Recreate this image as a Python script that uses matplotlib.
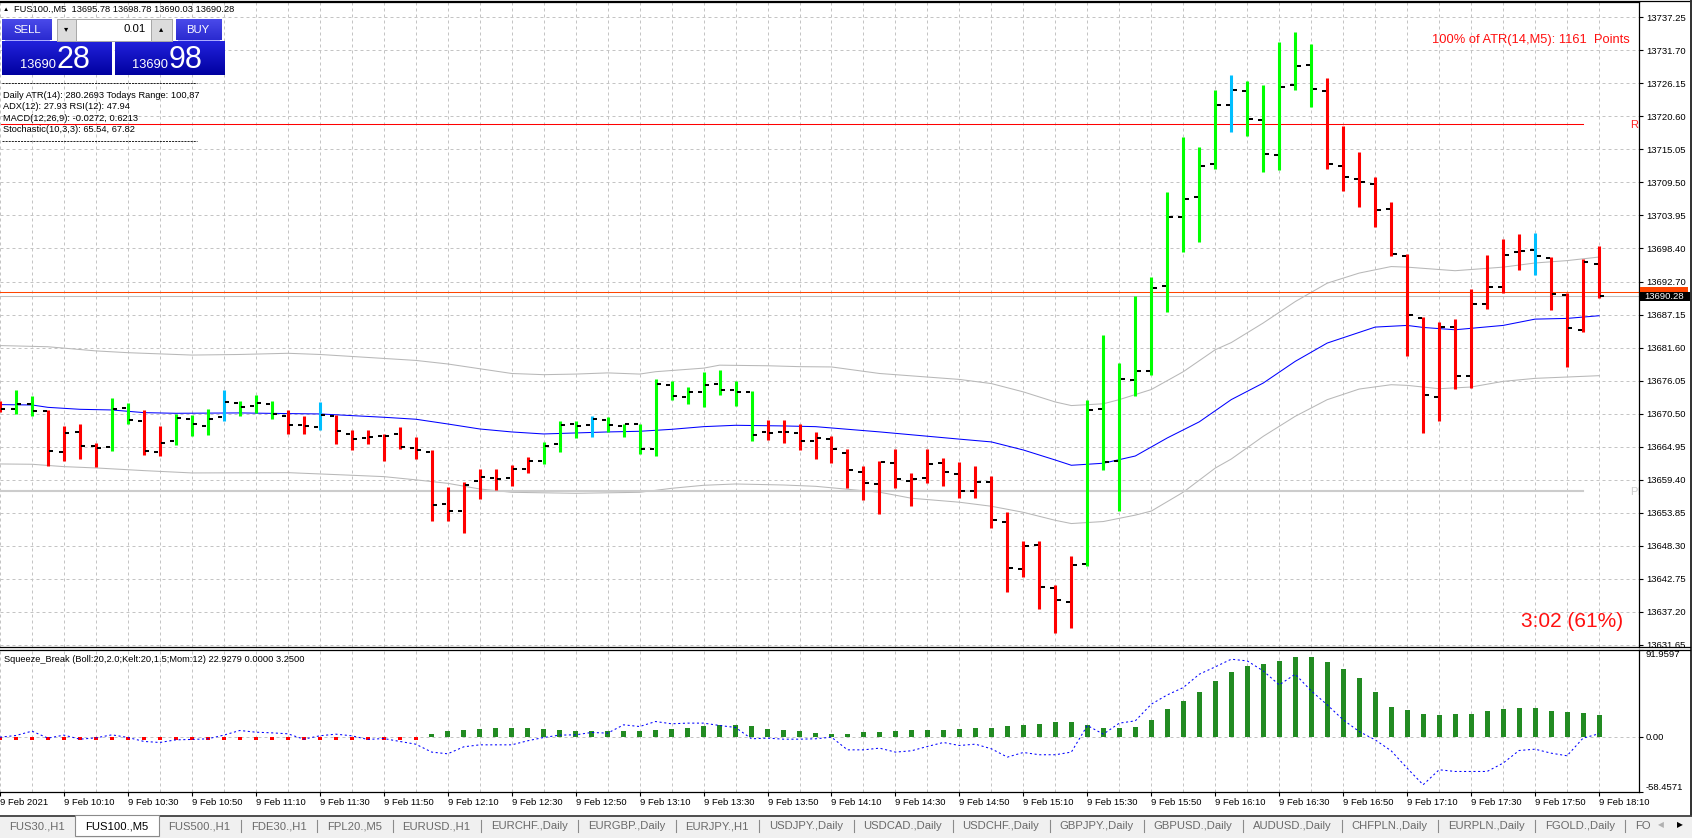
import matplotlib
matplotlib.use('Agg')
import matplotlib.pyplot as plt
import matplotlib.colors as mcolors
from matplotlib.collections import LineCollection
from matplotlib.patches import Rectangle
import numpy as np

plt.rcParams['font.family'] = ['Liberation Sans', 'DejaVu Sans']

# ---------------- data ----------------
symbol = "FUS100.,M5"
bar_open = [13671.8, 13671.27, 13672.12, 13671.05, 13664.04, 13667.40, 13665.16, 13664.99, 13671.44, 13669.26,
            13664.04, 13665.89, 13669.59, 13668.41, 13669.93, 13672.34, 13671.78, 13672.17, 13670.10, 13668.58,
            13668.25, 13670.10, 13667.07, 13666.39, 13666.84, 13667.07, 13664.71, 13664.03, 13655.28, 13654.10,
            13659.15, 13659.66, 13659.66, 13661.17, 13662.52, 13665.38, 13668.75, 13668.58, 13669.42, 13668.41,
            13668.75, 13664.54, 13675.31, 13673.29, 13674.13, 13675.48, 13674.47, 13674.13, 13667.40, 13667.40,
            13667.23, 13665.89, 13666.32, 13663.95, 13660.77, 13658.67, 13662.26, 13659.28, 13659.75, 13662.26,
            13660.43, 13657.45, 13659.08, 13652.24, 13644.32, 13648.38, 13641.14, 13638.84, 13645.20, 13671.33,
            13662.60, 13676.27, 13677.76, 13692.04, 13703.68, 13707.06, 13712.61, 13722.56, 13724.86, 13719.98,
            13714.09, 13725.87, 13729.23, 13724.86, 13712.24, 13710.06, 13709.22, 13705.01, 13697.11, 13686.68,
            13673.39, 13685.05, 13676.81, 13689.03, 13691.89, 13697.78, 13698.12, 13696.77, 13690.55, 13684.55,
            13695.78]
bar_high = [13672.6, 13674.59, 13673.58, 13671.22, 13668.53, 13668.86, 13665.66, 13673.24, 13672.40, 13671.22,
            13668.53, 13670.55, 13670.38, 13671.39, 13674.59, 13672.73, 13673.74, 13672.73, 13671.22, 13670.21,
            13672.57, 13670.32, 13667.85, 13667.85, 13667.07, 13668.36, 13666.67, 13664.48, 13658.25, 13659.10,
            13661.28, 13661.28, 13661.96, 13663.30, 13665.83, 13669.36, 13669.36, 13670.21, 13670.04, 13668.86,
            13668.86, 13676.43, 13676.10, 13675.09, 13677.61, 13677.95, 13676.10, 13674.41, 13669.53, 13669.53,
            13668.86, 13667.51, 13666.79, 13664.56, 13661.72, 13662.53, 13664.56, 13660.57, 13664.56, 13663.07,
            13662.39, 13661.72, 13660.02, 13653.93, 13649.06, 13649.06, 13641.75, 13646.62, 13672.88, 13683.71,
            13679.11, 13690.28, 13693.52, 13707.87, 13717.15, 13715.45, 13725.06, 13727.50, 13726.54, 13725.87,
            13733.09, 13734.78, 13732.76, 13727.04, 13718.97, 13714.60, 13710.39, 13706.19, 13697.44, 13686.79,
            13686.01, 13686.51, 13691.50, 13697.27, 13699.97, 13700.81, 13700.97, 13696.88, 13690.83, 13696.60,
            13698.78]
bar_low = [13670.9, 13670.43, 13670.10, 13661.79, 13662.63, 13662.97, 13661.62, 13664.32, 13668.86, 13663.64,
           13663.48, 13665.33, 13666.84, 13667.01, 13669.26, 13670.10, 13670.71, 13669.70, 13667.18, 13667.18,
           13667.74, 13665.50, 13664.37, 13665.50, 13662.63, 13664.54, 13662.97, 13652.53, 13652.53, 13650.51,
           13656.23, 13657.75, 13658.42, 13660.61, 13662.13, 13664.15, 13666.50, 13666.67, 13667.51, 13666.67,
           13663.81, 13663.47, 13672.90, 13672.23, 13671.72, 13673.74, 13671.89, 13666.00, 13666.17, 13665.66,
           13664.48, 13662.97, 13662.26, 13657.99, 13655.96, 13653.59, 13657.99, 13654.95, 13658.87, 13658.33,
           13656.30, 13656.30, 13651.36, 13640.53, 13643.10, 13637.69, 13633.63, 13634.51, 13644.93, 13661.04,
           13654.13, 13673.49, 13677.08, 13687.57, 13697.72, 13699.48, 13711.80, 13718.02, 13717.29, 13711.29,
           13711.57, 13725.01, 13722.17, 13711.79, 13708.09, 13705.40, 13702.04, 13697.00, 13680.18, 13667.28,
           13669.24, 13674.74, 13674.91, 13688.14, 13690.83, 13694.75, 13693.86, 13688.02, 13678.33, 13684.21,
           13690.03]
bar_close = [13671.27, 13672.17, 13671.05, 13664.21, 13667.24, 13665.16, 13664.82, 13671.27, 13669.42, 13664.21,
             13665.55, 13669.76, 13668.75, 13669.59, 13672.45, 13671.61, 13672.28, 13670.43, 13668.58, 13668.41,
             13670.32, 13667.57, 13666.23, 13666.67, 13666.84, 13664.99, 13664.43, 13655.11, 13654.21, 13658.59,
             13659.83, 13659.49, 13661.17, 13662.52, 13665.04, 13668.69, 13668.41, 13669.59, 13668.58, 13668.75,
             13664.54, 13675.48, 13673.46, 13674.13, 13675.31, 13674.47, 13674.13, 13666.90, 13667.23, 13667.40,
             13665.89, 13666.39, 13664.63, 13661.04, 13658.87, 13662.39, 13659.48, 13659.48, 13662.05, 13660.77,
             13657.45, 13659.08, 13652.58, 13644.59, 13648.18, 13641.28, 13639.18, 13645.07, 13671.19, 13662.39,
             13676.40, 13677.76, 13691.77, 13703.68, 13706.72, 13712.27, 13722.56, 13725.06, 13720.20, 13714.26,
             13725.59, 13729.06, 13725.19, 13712.58, 13710.39, 13709.55, 13704.84, 13697.44, 13687.18, 13673.73,
             13685.05, 13676.81, 13689.03, 13691.89, 13697.27, 13697.95, 13697.11, 13690.72, 13684.89, 13695.99,
             13690.28]
bar_color = ("r" "gg" "rrrr" "gg" "rr" "ggg" "c" "ggg" "rr" "c" "rrrrrr" "rrrrrrr" "ggg" "c"
             "gggggggggg" "rrrrrrrrrrrrrrrrrrrr" "ggggggggg" "c" "ggggg" "rrrrrrrrrrrrr" "c" "rrrr")

upper_idx = [0, 3, 6, 8, 10, 12, 15, 18, 20, 23, 26, 28, 30, 32, 34, 36, 38, 40, 41, 44, 45, 48, 50, 52, 55,
             60, 62, 64, 66, 67, 69, 70, 72, 74, 76, 77, 79, 81, 83, 85, 87, 88, 91, 94, 96, 98, 100]
upper_band = [13682.0, 13681.8, 13681.1, 13680.8, 13680.6, 13680.4, 13680.5, 13680.7, 13680.5, 13680.0,
              13679.5, 13678.9, 13678.1, 13677.3, 13677.1, 13677.2, 13677.4, 13677.2, 13677.6, 13678.2,
              13678.7, 13678.6, 13678.45, 13678.4, 13677.3, 13676.3, 13675.6, 13674.2, 13672.5, 13671.9,
              13672.2, 13672.9, 13674.6, 13677.6, 13681.3, 13682.5, 13685.8, 13689.4, 13692.5, 13694.2,
              13695.3, 13695.2, 13694.6, 13695.2, 13695.9, 13696.3, 13696.9]
mid_idx = [0, 2, 3, 5, 7, 9, 11, 15, 18, 20, 22, 24, 26, 28, 30, 32, 34, 36, 38, 40, 42, 44, 46, 49, 51,
           55, 60, 62, 64, 66, 67, 69, 71, 73, 75, 77, 79, 81, 83, 86, 88, 89, 91, 94, 96, 98, 100]
mid_band = [13672.06, 13672.0, 13671.6, 13671.27, 13671.16, 13670.71, 13670.6, 13670.66, 13670.55, 13670.49,
            13670.21, 13669.93, 13669.6, 13668.8, 13667.96, 13667.46, 13667.12, 13667.29, 13667.46, 13667.57,
            13667.9, 13668.35, 13668.58, 13668.47, 13668.35, 13667.47, 13666.25, 13665.78, 13664.42, 13662.73,
            13661.85, 13662.19, 13663.41, 13666.45, 13669.16, 13672.9, 13675.69, 13679.34, 13682.42, 13685.11,
            13685.39, 13685.05, 13684.66, 13685.39, 13686.45, 13686.57, 13687.02]
lower_idx = [0, 2, 4, 6, 9, 12, 18, 21, 24, 26, 28, 30, 32, 36, 40, 42, 44, 46, 49, 51, 55, 57, 60, 62, 64,
             66, 67, 69, 71, 72, 74, 76, 77, 79, 81, 83, 85, 87, 88, 90, 92, 94, 96, 100]
lower_band = [13662.07, 13662.02, 13661.62, 13661.4, 13660.95, 13660.56, 13660.61, 13660.28, 13659.94, 13659.4,
              13658.81, 13657.86, 13657.3, 13657.13, 13657.3, 13657.97, 13658.48, 13658.7, 13658.53, 13658.31,
              13657.32, 13656.30, 13655.63, 13654.95, 13653.93, 13652.58, 13652.04, 13652.38, 13653.46, 13654.14,
              13657.32, 13661.38, 13662.9, 13666.72, 13670.09, 13672.89, 13674.68, 13675.41, 13675.3, 13674.74,
              13675.02, 13675.97, 13676.48, 13676.93]

r_level = 13719.27
pp_level = 13657.58
ask_price = 13690.98
bid_price = 13690.28

price_labels = ['13737.25', '13731.70', '13726.15', '13720.60', '13715.05', '13709.50', '13703.95',
                '13698.40', '13692.70', '13687.15', '13681.60', '13676.05', '13670.50', '13664.95',
                '13659.40', '13653.85', '13648.30', '13642.75', '13637.20', '13631.65']
time_labels = ['9 Feb 2021', '9 Feb 10:10', '9 Feb 10:30', '9 Feb 10:50', '9 Feb 11:10', '9 Feb 11:30',
               '9 Feb 11:50', '9 Feb 12:10', '9 Feb 12:30', '9 Feb 12:50', '9 Feb 13:10', '9 Feb 13:30',
               '9 Feb 13:50', '9 Feb 14:10', '9 Feb 14:30', '9 Feb 14:50', '9 Feb 15:10', '9 Feb 15:30',
               '9 Feb 15:50', '9 Feb 16:10', '9 Feb 16:30', '9 Feb 16:50', '9 Feb 17:10', '9 Feb 17:30',
               '9 Feb 17:50', '9 Feb 18:10']

hist_idx = list(range(27, 101))
hist_vals = [3.2, 6.3, 7.4, 8.5, 9.5, 9.5, 9.5, 8.5,
             7.4, 6.3, 6.3, 6.3, 6.3, 6.3, 7.4, 8.5, 9.5, 11.6,
             12.7, 12.7, 11.6, 8.5, 7.4, 6.3, 4.2, 3.2, 3.2, 5.3,
             5.3, 6.3, 7.4, 7.4, 7.4, 8.5, 9.5, 9.5, 11.6, 12.7,
             13.8, 15.9, 15.9, 12.7, 9.5, 9.5, 10.6, 18.0, 29.6, 38.1,
             47.6, 59.3, 68.8, 75.1, 77.2, 80.4, 84.7, 84.7, 79.4, 72.0,
             62.4, 47.6, 31.7, 28.6, 24.3, 23.3, 24.3, 24.3, 27.5, 29.6,
             30.7, 30.7, 27.5, 26.5, 25.4, 22.9279]
squeeze_idx = list(range(0, 27))
squeeze_vals = [-3.9, -3.9, -3.9, -3.9, -3.9, -3.9, -3.9, -3.9, -3.9, -3.9, -3.9, -3.9, -3.9, -3.9,
                -3.9, -3.9, -3.9, -3.9, -3.9, -3.9, -3.9, -3.9, -3.9, -3.9, -3.9, -3.9, -3.9]
mom_vals = [-0.4, 1.4, 6.0, -1.4, 1.8, -2.5, -1.1, 2.1, -0.7, -4.9,
            -6.0, -3.2, -2.8, -2.1, 1.8, 6.7, 4.9, 4.2, 3.2, -2.5,
            1.1, 2.8, 1.1, -2.8, -1.8, -4.9, -7.8, -16.2, -18.0, -10.6,
            -8.5, -8.5, -8.5, -4.2, -0.7, 1.8, 2.1, 4.6, 3.9, 12.7,
            10.9, 16.2, 13.8, 14.5, 14.5, 12.0, 9.9, -2.1, -1.4, -2.5,
            -2.5, -2.1, -0.4, -13.8, -13.8, -12.0, -16.2, -14.8, -10.2, -6.0,
            -9.2, -7.8, -12.7, -21.5, -16.6, -19.0, -19.0, -16.2, 12.0, 2.8,
            14.5, 16.9, 34.6, 44.4, 52.2, 66.3, 74.1, 82.2, 80.4, 69.8,
            55.0, 66.3, 48.7, 33.9, 18.0, 5.6, -3.2, -14.8, -33.2, -50.8,
            -34.9, -36.7, -36.7, -36.7, -27.9, -14.5, -13.1, -17.3, -20.1, -1.4,
            3.25]
ind_min, ind_max = -58.4571, 91.9597

info_lines = ["Daily ATR(14): 280.2693 Todays Range: 100,87",
              "ADX(12): 27.93 RSI(12): 47.94",
              "MACD(12,26,9): -0.0272, 0.6213",
              "Stochastic(10,3,3): 65.54, 67.82"]
tab_names = ["FUS30.,H1", "FUS100.,M5", "FUS500.,H1", "FDE30.,H1", "FPL20.,M5", "EURUSD.,H1",
             "EURCHF.,Daily", "EURGBP.,Daily", "EURJPY.,H1", "USDJPY.,Daily", "USDCAD.,Daily",
             "USDCHF.,Daily", "GBPJPY.,Daily", "GBPUSD.,Daily", "AUDUSD.,Daily", "CHFPLN.,Daily",
             "EURPLN.,Daily", "FGOLD.,Daily", "FO"]
active_tab = 1

# ---------------- figure ----------------
W, H = 1692, 838
fig = plt.figure(figsize=(W / 100, H / 100), dpi=100)
fig.patch.set_facecolor('white')


def fa(x0, y0, x1, y1):
    return [x0 / W, 1 - y1 / H, (x1 - x0) / W, (y1 - y0) / H]


ax = fig.add_axes(fa(0, 2, 1639, 647))
ax2 = fig.add_axes(fa(0, 650, 1639, 792))
X0, X1 = 1 / 16, 102.5
grid_kw = dict(color='#c4c4c4', linewidth=0.72, linestyle=(0, (3, 3)))
FS = 6.8

# ---- main chart ----
ax.set_xlim(X0, X1)
ax.set_ylim(13631.26, 13739.83)
ax.set_xticks(np.arange(0, 102, 2))
ax.set_xticklabels([])
ax.tick_params(axis='x', length=0)
ax.yaxis.tick_right()
ax.set_yticks([float(s) for s in price_labels])
ax.set_yticklabels(price_labels)
ax.tick_params(axis='y', length=3, width=0.8, pad=2, labelsize=FS, colors='black')
ax.grid(True, **grid_kw)
ax.set_axisbelow(True)
ax.spines['left'].set_visible(False)
for s in ['right', 'top', 'bottom']:
    ax.spines[s].set_linewidth(0.9)

ax.plot(upper_idx, upper_band, color='#b8b8b8', lw=0.75, zorder=2)
ax.plot(lower_idx, lower_band, color='#b8b8b8', lw=0.75, zorder=2)
ax.plot(mid_idx, mid_band, color='#0000ff', lw=0.75, zorder=2)

ax.plot([X0, 99.0], [r_level, r_level], color='#ff0000', lw=0.75, zorder=2)
ax.plot([X0, 99.0], [pp_level, pp_level], color='#cccccc', lw=1.5, zorder=2)
ax.axhline(ask_price, color='#ff4500', lw=0.75, zorder=2)
ax.axhline(bid_price, color='#c0c0c0', lw=0.75, zorder=2)
ax.text(101.94, r_level - 0.2, 'R', color='#ff2020', fontsize=8, va='center', ha='left', clip_on=False)
ax.text(101.94, pp_level - 0.3, 'PP', color='#cccccc', fontsize=8, va='center', ha='left', clip_on=True)

cmap = {'g': '#00ff00', 'r': '#ff0000', 'c': '#00bfff'}
idx = np.arange(len(bar_open))
segs = [[(i, l), (i, h)] for i, h, l in zip(idx, bar_high, bar_low)]
ax.add_collection(LineCollection(segs, colors=[cmap[c] for c in bar_color], linewidths=2.2,
                                 capstyle='butt', zorder=4))
osegs = [[(i - 0.34, o), (i - 0.09, o)] for i, o in zip(idx, bar_open)]
csegs = [[(i + 0.09, c), (i + 0.34, c)] for i, c in zip(idx, bar_close)]
ax.add_collection(LineCollection(osegs + csegs, colors='black', linewidths=1.45,
                                 capstyle='butt', zorder=5))

# ---- indicator ----
ax2.set_xlim(X0, X1)
ax2.set_ylim(ind_min, ind_max)
ax2.set_xticks(np.arange(0, 101, 4))
ax2.set_xticklabels(time_labels)
ax2.set_xticks(np.arange(0, 102, 2), minor=True)
ax2.tick_params(axis='x', which='major', length=3, width=0.8, pad=1.5, labelsize=FS)
ax2.tick_params(axis='x', which='minor', length=0)
for lab in ax2.get_xticklabels():
    lab.set_horizontalalignment('left')
ax2.grid(True, axis='x', which='both', **grid_kw)
ax2.axhline(0, zorder=1, **grid_kw)
ax2.set_axisbelow(True)
ax2.yaxis.tick_right()
ax2.set_yticks([ind_min, 0, ind_max])
ax2.set_yticklabels([f'{ind_min:.4f}', '0.00', f'{ind_max:.4f}'])
ax2.tick_params(axis='y', length=3, width=0.8, pad=2, labelsize=FS)
ylabs = ax2.get_yticklabels()
ylabs[0].set_verticalalignment('bottom')
ylabs[2].set_verticalalignment('top')
ax2.spines['left'].set_visible(False)
for s in ['right', 'top', 'bottom']:
    ax2.spines[s].set_linewidth(0.9)
ax2.bar(hist_idx, hist_vals, width=0.31, color='#228b22', zorder=3)
ax2.bar(squeeze_idx, squeeze_vals, width=0.28, color='#ff0000', zorder=3)
ax2.plot(idx, mom_vals, color='#0000ff', lw=0.75, ls=(0, (2, 2.5)), zorder=4)

# ---- overlay (UI decorations in pixel coordinates) ----
ov = fig.add_axes([0, 0, 1, 1], zorder=10)
ov.set_xlim(0, W)
ov.set_ylim(H, 0)
ov.axis('off')
ov.patch.set_alpha(0)


def grad(x0, y0, x1, y1, ctop, cbot):
    ct = np.array(mcolors.to_rgb(ctop))
    cb = np.array(mcolors.to_rgb(cbot))
    t = np.linspace(0, 1, 64)[:, None]
    img = (ct * (1 - t) + cb * t)[:, None, :]
    ov.imshow(img, extent=(x0, x1, y1, y0), aspect='auto', interpolation='bilinear', zorder=2)


def py(p):
    return H - ax.transData.transform((1, p))[1]


# window frame lines
ov.plot([0, W], [1.5, 1.5], color='black', lw=0.9)
ov.plot([1690.5, 1690.5], [0, 815], color='#303030', lw=1.4)
ov.plot([1639, 1690], [647, 647], color='black', lw=0.9)
ov.plot([1639, 1690], [650, 650], color='black', lw=0.9)

# symbol header
last = len(bar_open) - 1
ov.text(5.5, 9.3, '▲', fontsize=4.5, va='center', ha='center', color='black')
ov.text(14.5, 9.3, f"{symbol}  {bar_open[last]:.2f} {bar_high[last]:.2f} {bar_low[last]:.2f} {bar_close[last]:.2f}",
        fontsize=6.7, va='center', ha='left', color='black')

# one-click trading panel
grad(2.3, 41, 112.3, 75, '#2222dc', '#0000a0')
grad(115, 41, 225, 75, '#2222dc', '#0000a0')
grad(2.3, 19.3, 51.7, 40.3, '#4a4aea', '#2a2ad0')
grad(175.7, 19.3, 221, 40.3, '#4a4aea', '#2a2ad0')
ov.plot([5, 49], [39.6, 39.6], color='#9a9aff', lw=0.6, zorder=3)
ov.plot([178, 219], [39.6, 39.6], color='#9a9aff', lw=0.6, zorder=3)
ov.add_patch(Rectangle((57, 19.3), 115, 21.4, fc='#f4f4f4', ec='#a8a8a8', lw=0.7, zorder=3))
ov.add_patch(Rectangle((57, 19.3), 19, 21.4, fc='#dcdcdc', ec='#a8a8a8', lw=0.7, zorder=3))
ov.add_patch(Rectangle((76, 19.3), 75, 21.4, fc='white', ec='#a8a8a8', lw=0.7, zorder=3))
ov.add_patch(Rectangle((151, 19.3), 21, 21.4, fc='#dcdcdc', ec='#a8a8a8', lw=0.7, zorder=3))
ov.text(66.5, 29.5, '▾', fontsize=6, ha='center', va='center', color='black', zorder=4)
ov.text(161.5, 29.5, '▴', fontsize=6, ha='center', va='center', color='black', zorder=4)
ov.text(146, 29.5, '0.01', fontsize=8.2, ha='right', va='center', color='black', zorder=4)
ov.text(27.5, 30, 'SELL', fontsize=8.2, ha='center', va='center', color='white', zorder=4)
ov.text(198, 30, 'BUY', fontsize=8.2, ha='center', va='center', color='white', zorder=4)
bid_s = f'{bid_price:.2f}'
ask_s = f'{ask_price:.2f}'
ov.text(20, 68, bid_s[:5], fontsize=9.3, ha='left', va='baseline', color='white', zorder=4)
ov.text(56, 68.3, bid_s[-2:], fontsize=22, ha='left', va='baseline', color='white', zorder=4)
ov.text(132, 68, ask_s[:5], fontsize=9.3, ha='left', va='baseline', color='white', zorder=4)
ov.text(169, 68.3, ask_s[-2:], fontsize=22, ha='left', va='baseline', color='white', zorder=4)

# info block
ov.plot([2, 197], [82.7, 82.7], color='black', lw=0.6, ls=(0, (2.5, 1.2)))
for k, line in enumerate(info_lines):
    ov.text(3, 95 + 11.6 * k, line, fontsize=6.7, ha='left', va='center', color='black')
ov.plot([2, 197], [141, 141], color='black', lw=0.6, ls=(0, (2.5, 1.2)))

ov.text(1630, 40, '100% of ATR(14,M5): 1161  Points', fontsize=9.3, ha='right', va='center', color='#ff1010')
ov.text(1623, 621, '3:02 (61%)', fontsize=15, ha='right', va='center', color='#ff1010')

# price boxes
ya = py(ask_price)
yb = py(bid_price)
ov.add_patch(Rectangle((1640, ya - 5.5), 48, 11, fc='#ff4500', ec='none', zorder=3))
ov.add_patch(Rectangle((1640, yb - 4.8), 50, 9.8, fc='black', ec='none', zorder=4))
ov.text(1644, yb + 0.3, bid_s, fontsize=FS, ha='left', va='center', color='white', zorder=5)

# indicator title
ov.text(3.5, 659, f"Squeeze_Break (Boll:20,2.0;Kelt:20,1.5;Mom:12) {hist_vals[-1]:.4f} 0.0000 {mom_vals[-1]:.4f}",
        fontsize=6.7, ha='left', va='center', color='black')

# tab bar
ov.add_patch(Rectangle((0, 815), W, 23, fc='#f0f0f0', ec='none', zorder=1))
ov.plot([0, W], [815.5, 815.5], color='#404040', lw=1.3, zorder=2)
renderer = fig.canvas.get_renderer()
widths = []
for name in tab_names:
    t = ov.text(0, 0, name, fontsize=8.1)
    widths.append(t.get_window_extent(renderer).width)
    t.remove()
ref = tab_names.index("CHFPLN.,Daily")
gap = (1351.7 - 9 - sum(widths[:ref])) / ref
a_pad = gap * 0.52
b_pad = gap - a_pad
x = 9.0
seps = []
starts = []
for k, name in enumerate(tab_names):
    starts.append(x)
    sep = x + widths[k] + a_pad
    seps.append(sep)
    x = sep + b_pad
for k, name in enumerate(tab_names):
    if k == active_tab:
        left = seps[k - 1]
        ov.add_patch(Rectangle((left, 815), seps[k] - left, 21, fc='white', ec='#8a8a8a', lw=0.8, zorder=3))
        ov.text(starts[k], 826, name, fontsize=8.1, ha='left', va='center', color='black', zorder=4)
    else:
        ov.text(starts[k], 826, name, fontsize=8.1, ha='left', va='center', color='#6a6a6a', zorder=4)
    if k != active_tab and k + 1 != active_tab and k < len(tab_names) - 1:
        ov.plot([seps[k], seps[k]], [820, 832], color='#8a8a8a', lw=0.8, zorder=4)
ov.add_patch(Rectangle((1654, 816.5), 38, 21.5, fc='#f0f0f0', ec='none', zorder=5))
ov.text(1661, 826, '◀', fontsize=5.5, ha='center', va='center', color='#b0b0b0', zorder=6)
ov.text(1680, 826, '▶', fontsize=5.5, ha='center', va='center', color='black', zorder=6)

ov.set_xlim(0, W)
ov.set_ylim(H, 0)
fig.savefig('out.png', dpi=100)
